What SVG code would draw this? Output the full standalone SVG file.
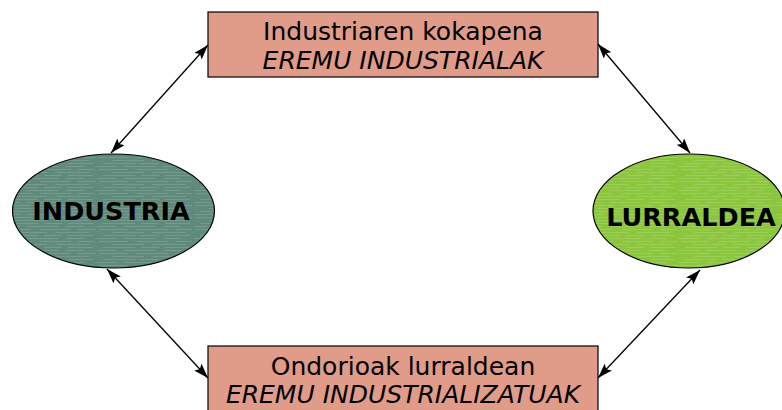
<svg xmlns="http://www.w3.org/2000/svg" width="782" height="410" viewBox="0 0 782 410">
<defs>
<style>
.box{fill:#e09b89;stroke:#000;stroke-width:1.2}
.ell{stroke:#000;stroke-width:1.2}
.t{font-family:"DejaVu Sans",Verdana,sans-serif;font-size:25px;fill:#000;text-anchor:middle}
.i{font-style:italic}
.b{font-family:"DejaVu Sans",Verdana,sans-serif;font-size:25.5px;font-weight:bold;fill:#000;text-anchor:middle}
.c{stroke:#000;stroke-width:1.3;fill:none;marker-start:url(#ah);marker-end:url(#ah)}
</style>
<marker id="ah" viewBox="0 0 15 10" refX="15" refY="5" markerWidth="15" markerHeight="10" markerUnits="userSpaceOnUse" orient="auto-start-reverse">
<path d="M0,0 L15,5 L0,10 L3,5 Z" fill="#000"/>
</marker>
<pattern id="tex" width="97" height="12" patternUnits="userSpaceOnUse">
<path d="M2,1.5 H31 M40,1.5 H71 M78,1.5 H95 M15,4.5 H47 M55,4.5 H89 M6,7.5 H38 M44,7.5 H62 M68,7.5 H93 M0,10.5 H20 M27,10.5 H58 M66,10.5 H84" stroke="#ffffff" stroke-opacity="0.14" stroke-width="1"/>
</pattern>
</defs>
<g id="connectors">
<line class="c" x1="111" y1="153" x2="208" y2="45"/>
<line class="c" x1="598" y1="44" x2="690" y2="153"/>
<line class="c" x1="107" y1="269" x2="208" y2="378"/>
<line class="c" x1="700" y1="270" x2="598" y2="378"/>
</g>
<g id="top">
<rect class="box" x="208" y="12" width="390" height="65"/>
<text class="t" x="403" y="40">Industriaren kokapena</text>
<text class="t i" x="403" y="69">EREMU INDUSTRIALAK</text>
</g>
<g id="bottom">
<rect class="box" x="208" y="346" width="390" height="70"/>
<text class="t" x="403" y="375">Ondorioak lurraldean</text>
<text class="t i" x="403" y="403">EREMU INDUSTRIALIZATUAK</text>
</g>
<g id="industria">
<ellipse class="ell" cx="113.5" cy="211" rx="101" ry="57" fill="#5f8a7c"/>
<ellipse cx="113.5" cy="211" rx="100" ry="56" fill="url(#tex)"/>
<text class="b" x="111" y="220">INDUSTRIA</text>
</g>
<g id="lurraldea">
<ellipse class="ell" cx="689" cy="211" rx="96" ry="57" fill="#8cc63f"/>
<ellipse cx="689" cy="211" rx="95" ry="56" fill="url(#tex)"/>
<text class="b" x="691" y="226">LURRALDEA</text>
</g>
</svg>
